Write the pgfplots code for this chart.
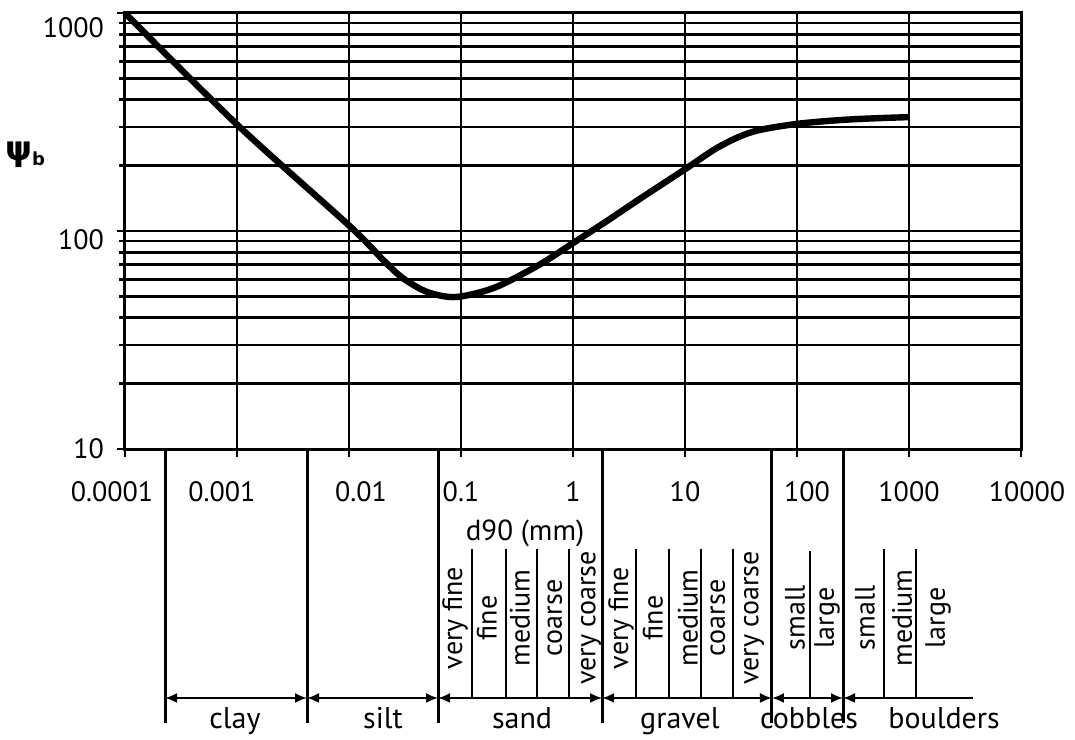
\documentclass[border=0pt]{standalone}
\usepackage{fontspec}
\setmainfont{PT Sans}
\newfontfamily\dejavub{DejaVu Sans Bold}
\usepackage{pgfplots}
\pgfplotsset{compat=1.18}
\usetikzlibrary{arrows.meta}
\tikzset{
  submark/.style={rotate=90, anchor=center, inner sep=0pt, font=\fontsize{14bp}{16bp}\selectfont},
  mainlab/.style={anchor=base, font=\fontsize{15bp}{17bp}\selectfont},
  majb/.style={black, line width=1.5bp},
  subl/.style={black, line width=0.8bp},
  myarr/.style={black, line width=1bp, {Latex[length=6bp,width=5bp]}-{Latex[length=6bp,width=5bp]}},
}
\begin{document}
\begin{tikzpicture}[font=\fontsize{14bp}{16bp}\selectfont]
\path[use as bounding box] (-62.5bp,-145.5bp) rectangle (475bp,224.5bp);
\begin{axis}[
  at={(0,0)}, anchor=south west,
  scale only axis, width=448bp, height=218bp,
  xmode=log, ymode=log,
  xmin=1e-4, xmax=1e4, ymin=10, ymax=1000,
  xtick={1e-4,1e-3,1e-2,1e-1,1,10,100,1000,10000},
  xticklabels={\hspace*{-13bp}0.0001,\hspace*{-15bp}0.001,0.01\hspace*{-12bp},0.1,1,10,100\hspace*{-10bp},1000,10000\hspace*{-6bp}},
  ytick={10,100,1000},
  yticklabels={10,\raisebox{-4.5bp}[\height][\depth]{100},\raisebox{-7.5bp}[\height][\depth]{1000}},
  ticklabel style={font=\fontsize{14bp}{16bp}\selectfont},
  xminorticks=false,
  xmajorgrids, ymajorgrids, yminorgrids,
  grid style={black, line width=1.4bp},
  major grid style={black, line width=1.4bp},
  minor grid style={black, line width=1.4bp},
  axis line style={black, line width=1.5bp},
  tick style={black, line width=1.4bp},
  tick align=outside,
  major tick length=4bp, minor tick length=3bp,
  xtick pos=bottom, ytick pos=left,
  xticklabel style={anchor=base, yshift=-22.5bp},
  yticklabel style={xshift=-3bp},
  clip=false,
]
\addplot[black, line width=3.2bp, smooth, tension=0.5] coordinates {
 (0.0001,1000) (0.001,308) (0.01,106) (0.02,74) (0.03,61) (0.05,52.5) (0.09,49.8)
 (0.2,55) (0.5,70) (1,88) (2,111) (4,141) (10,192) (20,243) (40,285)
 (100,310) (300,325) (1000,333)
};
% psi label
\node[anchor=center, inner sep=0pt] at (axis cs:1e-4,223) [xshift=-50bp]
  {{\dejavub\fontsize{17bp}{17bp}\selectfont ψ}\raisebox{-2.5bp}{\dejavub\fontsize{9bp}{9bp}\selectfont b}};
% x axis title
\node[font=\fontsize{14.5bp}{16bp}\selectfont] at (axis cs:0.373,4.1) {d90 (mm)};
% major boundaries
\draw[majb] (axis cs:0.000228,10) -- (axis cs:0.000228,0.553);
\draw[majb] (axis cs:0.00422,10) -- (axis cs:0.00422,0.553);
\draw[majb] (axis cs:0.0624,10) -- (axis cs:0.0624,0.553);
\draw[majb] (axis cs:1.82,10) -- (axis cs:1.82,0.553);
\draw[majb] (axis cs:59.8,10) -- (axis cs:59.8,0.553);
\draw[majb] (axis cs:257.6,10) -- (axis cs:257.6,0.553);
% sub-division lines
\draw[subl] (axis cs:0.1253,3.48) -- (axis cs:0.1253,0.721);
\draw[subl] (axis cs:0.252,3.48) -- (axis cs:0.252,0.721);
\draw[subl] (axis cs:0.477,3.48) -- (axis cs:0.477,0.721);
\draw[subl] (axis cs:0.921,3.48) -- (axis cs:0.921,0.721);
\draw[subl] (axis cs:3.65,3.48) -- (axis cs:3.65,0.721);
\draw[subl] (axis cs:7.2,3.48) -- (axis cs:7.2,0.721);
\draw[subl] (axis cs:13.9,3.48) -- (axis cs:13.9,0.721);
\draw[subl] (axis cs:26.8,3.48) -- (axis cs:26.8,0.721);
\draw[subl] (axis cs:130.6,3.4) -- (axis cs:130.6,0.721);
\draw[subl] (axis cs:598,3.48) -- (axis cs:598,0.721);
\draw[subl] (axis cs:1156,3.48) -- (axis cs:1156,0.721);
% arrows
\draw[myarr] (axis cs:0.000228,0.721) -- (axis cs:0.00422,0.721);
\draw[myarr] (axis cs:0.00422,0.721) -- (axis cs:0.0624,0.721);
\draw[myarr] (axis cs:0.0624,0.721) -- (axis cs:1.82,0.721);
\draw[myarr] (axis cs:1.82,0.721) -- (axis cs:59.8,0.721);
\draw[myarr] (axis cs:59.8,0.721) -- (axis cs:257.6,0.721);
\draw[black, line width=1bp, {Latex[length=6bp,width=5bp]}-] (axis cs:257.6,0.721) -- (axis cs:3724,0.721);
% sub labels
\node[submark] at (axis cs:0.0884,1.678) {very fine};
\node[submark] at (axis cs:0.1706,1.678) {fine};
\node[submark] at (axis cs:0.336,1.678) {medium};
\node[submark] at (axis cs:0.69,1.678) {coarse};
\node[submark] at (axis cs:1.448,1.678) {very coarse};
\node[submark] at (axis cs:2.69,1.678) {very fine};
\node[submark] at (axis cs:5.18,1.678) {fine};
\node[submark] at (axis cs:10.6,1.678) {medium};
\node[submark] at (axis cs:19.7,1.678) {coarse};
\node[submark] at (axis cs:41.3,1.678) {very coarse};
\node[submark] at (axis cs:96,1.678) {small};
\node[submark] at (axis cs:185,1.678) {large};
\node[submark] at (axis cs:405,1.678) {small};
\node[submark] at (axis cs:867,1.678) {medium};
\node[submark] at (axis cs:1815,1.678) {large};
% main labels
\node[mainlab] at (axis cs:0.00096,0.52) {clay};
\node[mainlab] at (axis cs:0.0201,0.52) {silt};
\node[mainlab] at (axis cs:0.351,0.52) {sand};
\node[mainlab] at (axis cs:9.0,0.52) {gravel};
\node[mainlab] at (axis cs:128,0.52) {cobbles};
\node[mainlab] at (axis cs:2055,0.52) {boulders};
\end{axis}
\end{tikzpicture}
\end{document}
